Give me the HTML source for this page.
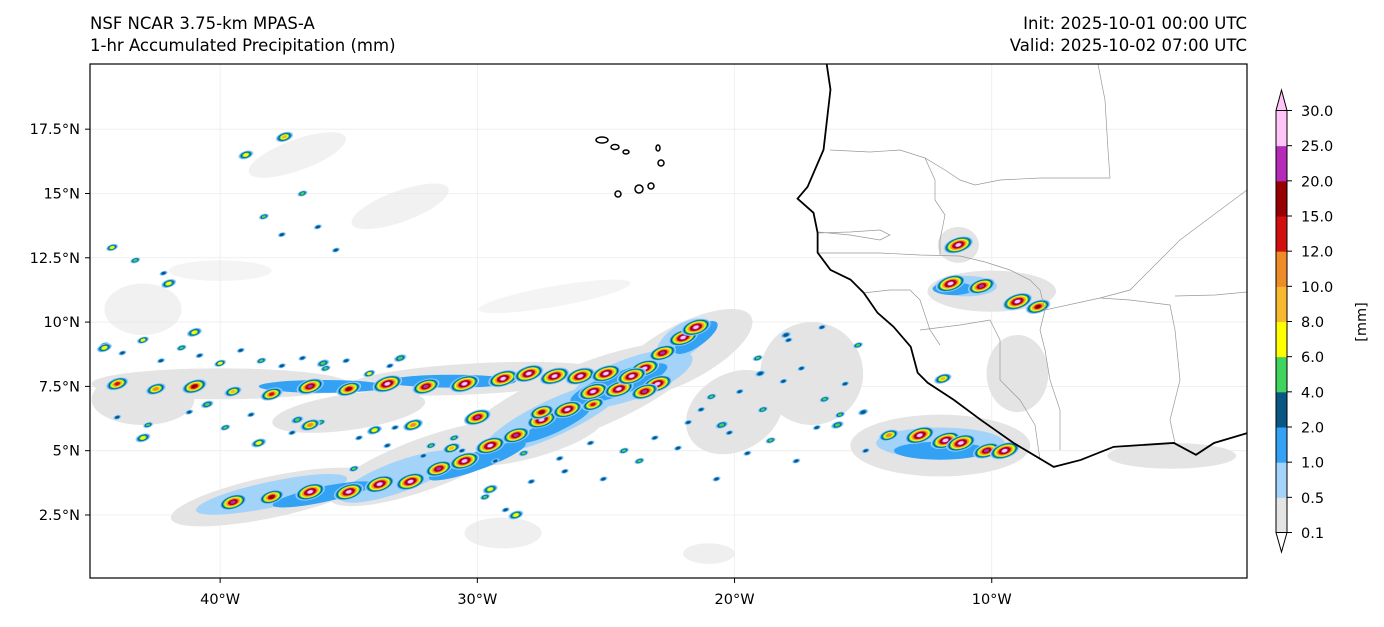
<!DOCTYPE html>
<html><head><meta charset="utf-8">
<style>
body{margin:0;background:#fff;width:1384px;height:623px;overflow:hidden;font-family:"DejaVu Sans","Liberation Sans",sans-serif;}
svg text{font-family:"DejaVu Sans","Liberation Sans",sans-serif;fill:#000;}
</style></head>
<body>
<svg id="chart" width="1384" height="623" viewBox="0 0 1384 623" xmlns="http://www.w3.org/2000/svg">
<defs><clipPath id="mapclip"><rect x="90" y="64" width="1157" height="514"/></clipPath></defs>
<text x="90" y="29" font-size="16.5">NSF NCAR 3.75-km MPAS-A</text>
<text x="90" y="51" font-size="16.5">1-hr Accumulated Precipitation (mm)</text>
<text x="1247" y="29" font-size="16.5" text-anchor="end">Init: 2025-10-01 00:00 UTC</text>
<text x="1247" y="51" font-size="16.5" text-anchor="end">Valid: 2025-10-02 07:00 UTC</text>
<g id="grid"></g>
<g id="rain" clip-path="url(#mapclip)"></g>
<g clip-path="url(#mapclip)" fill="none" stroke="#999" stroke-width="0.7">
<path d="M830,150 L870,152 L900,150 L925,158 L945,170 L960,180 L975,185 L1000,180 L1040,178 L1110,178 L1108,150 L1105,100 L1098,64"/>
<path d="M817,233 L850,232 L880,230 L890,235 L880,240 L850,235 L818,232"/>
<path d="M817,253 L880,253 L920,255 L960,256 L985,262 L1010,270 L1030,280 L1040,290 L1045,310 L1100,298 L1130,290 L1150,270 L1180,240 L1200,225 L1247,190"/>
<path d="M925,158 L935,180 L935,200 L945,215 L940,240 L940,255"/>
<path d="M863,293 L890,290 L910,290 L920,300 L930,330 L940,345"/>
<path d="M920,330 L960,325 L990,320 L1000,340 L1000,380 L1020,400 L1035,425 L1040,460"/>
<path d="M1045,310 L1040,330 L1045,350 L1050,380 L1060,410 L1060,450"/>
<path d="M1100,298 L1130,300 L1170,305 L1175,330 L1180,380 L1170,420 L1175,443"/>
<path d="M1175,296 L1215,295 L1247,292"/>
</g>
<g id="coast" clip-path="url(#mapclip)"></g>
<g fill="none" stroke="#000" stroke-width="1.5">
<ellipse cx="602" cy="140" rx="6" ry="3"/><ellipse cx="615" cy="147" rx="4" ry="2.5"/><ellipse cx="626" cy="152" rx="3" ry="2"/>
<ellipse cx="658" cy="148" rx="2" ry="3"/><ellipse cx="661" cy="163" rx="3" ry="3"/><ellipse cx="651" cy="186" rx="3" ry="3"/>
<ellipse cx="639" cy="189" rx="4" ry="4"/><ellipse cx="618" cy="194" rx="3" ry="3"/>
</g>
<rect x="90" y="64" width="1157" height="514" fill="none" stroke="#000" stroke-width="1.2"/>
<g id="axes"></g>
<g id="cbar"></g>
<text transform="translate(1366,322) rotate(-90)" font-size="14.5" text-anchor="middle">[mm]</text>
</svg>
<script>
const NS="http://www.w3.org/2000/svg";
const xTicks=[-40,-30,-20,-10];
const xTickLabels=["40°W","30°W","20°W","10°W"];
const yTicks=[2.5,5,7.5,10,12.5,15,17.5];
const yTickLabels=["2.5°N","5°N","7.5°N","10°N","12.5°N","15°N","17.5°N"];
const levels=[0.1,0.5,1,2,4,6,8,10,12,15,20,25,30];
const levelColors=["#e4e4e4","#a3d3f8","#33a2f5","#0a5783","#3fd45d","#ffff00","#f8b82f","#ee8c28","#d20f0f","#970000","#b52ab7","#ffc4f8"];
const coastLon=[-16.42,-16.27,-16.54,-17.16,-17.55,-16.93,-16.77,-16.77,-16.27,-15.49,-14.98,-14.44,-13.82,-13.15,-12.88,-12.49,-11.48,-10.43,-9.15,-7.59,-6.54,-5.26,-2.92,-2.06,-1.36,-0.04];
const coastLat=[20.05,19.04,16.70,15.26,14.80,14.25,13.47,12.70,12.03,11.65,11.14,10.36,9.82,9.04,8.03,7.64,6.98,6.20,5.30,4.37,4.64,5.15,5.30,4.84,5.30,5.69];
// rain shields: lon, lat, half-width, half-height (deg), rotation, level index
const shieldLon=[-38,-32,-26,-22,-40,-30,-12,-10,-11.3,-9,-43,-28,-35,-20,-3,-17,-38,-33,-27,-24,-22,-12,-11,-36,-30,-24.5,-21.5,-12,-11.5,-36,-31,-27,-37,-33,-43,-40,-27,-29,-21];
const shieldLat=[3.2,4.5,7.0,8.8,7.6,7.8,5.2,11.2,13.0,8,7,5.5,6.5,6.5,4.8,8,3.3,4.0,6.3,7.8,9.3,5.3,11.4,3.3,4.6,7.6,9.4,5.0,11.3,7.5,7.7,6.0,16.5,14.5,10.5,12,11,1.8,1.0];
const shieldW=[4,4,5,3,5,5,3.5,2.5,0.8,1.2,2,3,3,2,2.5,2,3,2.5,3,2.5,1.2,2.5,1.2,2,2,2,1,1.8,0.8,2.5,2.5,1.5,2,2,1.5,2,3,1.5,1];
const shieldH=[0.8,1,1.3,1.1,0.6,0.6,1.2,0.8,0.7,1.5,1,0.8,0.7,1.5,0.5,2,0.5,0.6,0.7,0.8,0.6,0.6,0.4,0.3,0.35,0.45,0.35,0.35,0.25,0.25,0.25,0.3,0.6,0.6,1,0.4,0.4,0.6,0.4];
const shieldRot=[-12,-20,-22,-28,0,-3,0,0,0,0,0,-15,-8,-30,0,0,-12,-20,-25,-20,-35,0,0,-12,-20,-20,-35,0,0,0,0,-25,-20,-20,0,0,-10,0,0];
const shieldLvl=[0,0,0,0,0,0,0,0,0,0,0,0,0,0,0,0,1,1,1,1,1,1,1,2,2,2,2,2,2,2,2,2,0,0,0,0,0,0,0];
const shieldOpacity=[1,1,1,1,1,1,1,1,1,1,1,1,1,1,1,1,1,1,1,1,1,1,1,1,1,1,1,1,1,1,1,1,0.5,0.5,0.5,0.4,0.4,0.6,0.6];
// convective cells: lon, lat, peak value (mm)
const cellLon=[-39.5,-38,-36.5,-35,-33.8,-32.6,-31.5,-30.5,-29.5,-28.5,-27.5,-26.5,-25.5,-24.5,-23.5,-22.8,-22,-21.5,-44,-42.5,-41,-39.5,-38,-36.5,-35,-33.5,-32,-30.5,-29,-28,-27,-26,-25,-24,-23,-23.5,-25.5,-27.5,-30,-32.5,-14,-12.8,-11.8,-11.2,-10.2,-9.5,-11.3,-11.6,-10.4,-9,-8.2,-11.9,-34,-31,-36.5,-29.5,-43,-40.5,-38.5,-37,-44.5,-36,-33,-41,-42,-28.5,-18,-16,-19,-15,-20.5,-39,-37.5];
const cellLat=[3.0,3.2,3.4,3.4,3.7,3.8,4.3,4.6,5.2,5.6,6.2,6.6,7.3,7.4,8.2,8.8,9.4,9.8,7.6,7.4,7.5,7.3,7.2,7.5,7.4,7.6,7.5,7.6,7.8,8.0,7.9,7.9,8.0,7.9,7.6,7.3,6.8,6.5,6.3,6.0,5.6,5.6,5.4,5.3,5.0,5.0,13.0,11.5,11.4,10.8,10.6,7.8,5.8,5.1,6.0,3.5,5.5,6.8,5.3,6.2,9.0,8.4,8.6,9.6,11.5,2.5,9.5,6.0,8.0,6.5,6.0,16.5,17.2];
const cellVal=[20,15,25,30,30,25,20,30,25,20,30,25,30,30,30,20,25,25,12,10,15,8,12,20,15,25,20,30,30,30,30,25,30,30,25,20,12,15,20,10,10,25,30,30,20,25,30,30,20,25,15,8,6,8,10,6,6,4,6,4,6,4,4,6,6,6,2,4,2,2,4,6,8];
const dotLon=[-44.5,-43.8,-43,-42.3,-41.5,-40.8,-40,-39.2,-38.4,-37.6,-36.8,-35.9,-35.1,-34.2,-33.4,-44,-42.8,-41.2,-39.8,-38.8,-37.2,-36.1,-34.6,-33.2,-31.8,-30.6,-29.3,-28.2,-26.8,-25.6,-24.3,-23.1,-21.8,-20.9,-19.8,-18.9,-18.1,-17.4,-16.5,-15.7,-19.5,-18.6,-17.6,-16.8,-15.9,-14.9,-21.3,-20.2,-19.1,-17.9,-16.6,-15.2,-44.2,-43.3,-42.2,-38.3,-37.6,-36.8,-36.2,-35.5,-29.7,-28.9,-27.9,-26.6,-25.1,-23.7,-22.2,-20.7,-34.8,-33.5,-32.1,-30.9];
const dotLat=[9.1,8.8,9.3,8.5,9.0,8.7,8.4,8.9,8.5,8.3,8.6,8.2,8.5,8.0,8.3,6.3,6.0,6.5,5.9,6.4,5.7,6.1,5.5,5.9,5.2,5.0,4.6,4.9,4.7,5.3,5.0,5.5,6.1,7.1,7.3,6.6,7.7,8.2,7.0,7.6,4.9,5.4,4.6,5.9,6.4,5.0,6.6,5.7,8.6,9.3,9.8,9.1,12.9,12.4,11.9,14.1,13.4,15.0,13.7,12.8,3.2,2.7,3.8,4.2,3.9,4.6,5.1,3.9,4.3,5.2,4.8,5.5];
const dotVal=[4,2,6,2,4,2,6,2,4,2,2,4,2,6,2,2,4,2,4,2,2,4,2,2,4,2,2,4,2,2,4,2,2,4,2,4,2,2,4,2,2,4,2,2,4,2,2,2,4,2,2,4,6,4,2,4,2,4,2,2,4,2,2,2,2,4,2,2,4,2,2,4];
const X=lon=>90+(lon+45.06)*25.72, Y=lat=>578-(lat-0.05)*25.72;
function mk(tag,attrs,parent){const e=document.createElementNS(NS,tag);for(const k in attrs)e.setAttribute(k,attrs[k]);parent.appendChild(e);return e;}
const grid=document.getElementById('grid'),axes=document.getElementById('axes'),rain=document.getElementById('rain');
xTicks.forEach((v,i)=>{
 const l=mk('line',{x1:X(v),x2:X(v),y1:64,y2:578,stroke:'#ececec','stroke-width':0.8},grid);
 
 
 const t=mk('line',{x1:X(v),x2:X(v),y1:578,y2:583,stroke:'#000'},axes);
 
 
 const tx=mk('text',{x:X(v),y:604,'font-size':14.5,'text-anchor':'middle'},axes);tx.textContent=xTickLabels[i];
 
 
});
yTicks.forEach((v,i)=>{
 const l=mk('line',{x1:90,x2:1247,y1:Y(v),y2:Y(v),stroke:'#ececec','stroke-width':0.8},grid);
 
 
 const t=mk('line',{x1:85,x2:90,y1:Y(v),y2:Y(v),stroke:'#000'},axes);
 
 
 const tx=mk('text',{x:80,y:Y(v)+5,'font-size':14.5,'text-anchor':'end'},axes);tx.textContent=yTickLabels[i];
 
 
});
shieldLon.forEach((lo,i)=>{
 const e=mk('ellipse',{cx:X(lo),cy:Y(shieldLat[i]),rx:shieldW[i]*25.72,ry:shieldH[i]*25.72,fill:levelColors[shieldLvl[i]],opacity:shieldOpacity[i],transform:`rotate(${shieldRot[i]} ${X(lo)} ${Y(shieldLat[i])})`},rain);
 
 
});
function lvlIndex(v){let k=0;for(let j=0;j<levels.length-1;j++){if(v>=levels[j])k=j;}return k;}
function drawCell(lo,la,val,scale){
 const top=lvlIndex(val);const cx=X(lo),cy=Y(la);
 for(let k=1;k<=top;k++){
  const s=(top-k+1);
  const e=mk('ellipse',{cx:cx,cy:cy,rx:(1.5+s*1.25)*scale,ry:(1+s*0.6)*scale,fill:levelColors[k],transform:`rotate(-18 ${cx} ${cy})`},rain);
  
  
 }
}
dotLon.forEach((lo,i)=>drawCell(lo,dotLat[i],dotVal[i],0.8));
cellLon.forEach((lo,i)=>drawCell(lo,cellLat[i],cellVal[i],1));
const coast=document.getElementById('coast');
const cp=mk('polyline',{points:coastLon.map((lo,i)=>X(lo)+','+Y(coastLat[i])).join(' '),fill:'none',stroke:'#000','stroke-width':1.8},coast);


const cb=document.getElementById('cbar');const cbx=1276,cbw=11,cbTop=110.5,cbBot=532.5;
const step=(cbBot-cbTop)/(levels.length-1);
levelColors.forEach((c,i)=>{
 const r=mk('rect',{x:cbx,y:cbBot-(i+1)*step,width:cbw,height:step+0.5,fill:c},cb);
 
 
});
const tt=mk('polygon',{points:`${cbx},${cbTop} ${cbx+cbw/2},90 ${cbx+cbw},${cbTop}`,fill:levelColors[levelColors.length-1],stroke:'#000','stroke-width':1},cb);


const bt=mk('polygon',{points:`${cbx},${cbBot} ${cbx+cbw/2},552 ${cbx+cbw},${cbBot}`,fill:'#fff',stroke:'#000','stroke-width':1},cb);


const fl=mk('line',{x1:cbx,x2:cbx,y1:cbTop,y2:cbBot,stroke:'#000'},cb);


const fr=mk('line',{x1:cbx+cbw,x2:cbx+cbw,y1:cbTop,y2:cbBot,stroke:'#000'},cb);


levels.forEach((v,i)=>{
 const y=cbBot-i*step;
 const t=mk('line',{x1:cbx+cbw,x2:cbx+cbw+5,y1:y,y2:y,stroke:'#000'},cb);
 
 
 const tx=mk('text',{x:1301,y:y+5.5,'font-size':14.5},cb);tx.textContent=v.toFixed(1);
 
 
});
</script>
</body></html>
